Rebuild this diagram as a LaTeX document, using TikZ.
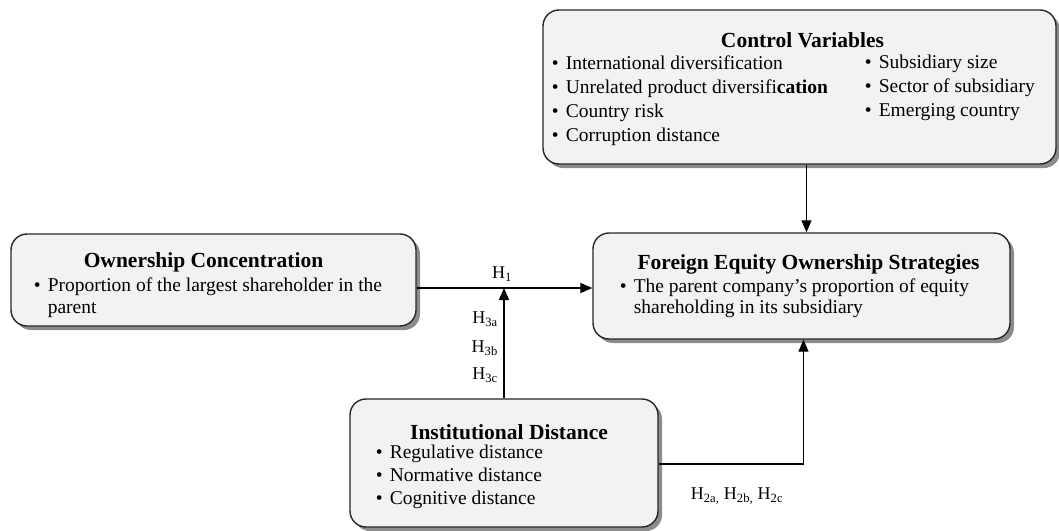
\documentclass[tikz,border=0pt]{standalone}
\usepackage{fontspec}
\setmainfont{Liberation Serif}
\usetikzlibrary{arrows.meta,shadows}
\newcommand{\bul}{\makebox[14pt][l]{\textbullet}}
\begin{document}
\begin{tikzpicture}[x=1pt,y=-1pt,
  box/.style={draw=black!85,line width=1.4pt,rounded corners=16pt,fill=black!5,
    drop shadow={shadow xshift=4pt,shadow yshift=-4pt,fill=black!45,opacity=1},
    inner sep=0pt},
  txt/.style={inner sep=0pt,anchor=base west,font=\fontsize{19.5}{22}\selectfont},
  ttl/.style={inner sep=0pt,anchor=base,font=\fontsize{21.5}{24}\selectfont\bfseries},
  lbl/.style={inner sep=0pt,anchor=base,font=\fontsize{18}{20}\selectfont},
  arr/.style={line width=1.3pt,-{Triangle[length=12pt,width=10pt]}}]
\useasboundingbox (0,0) rectangle (1059,530);
% boxes
\node[box,minimum width=513pt,minimum height=154pt] (ctrl) at (799.5,87) {};
\node[box,minimum width=417pt,minimum height=106pt] (fes) at (801.5,286) {};
\node[box,minimum width=405pt,minimum height=92pt] (own) at (213.5,280) {};
\node[box,minimum width=308pt,minimum height=128pt] (inst) at (504,463) {};
% control variables text
\node[ttl] (ctrlT) at (802.5,47) {Control Variables};
\node[txt] (c1) at (551.6,69) {\bul International diversification};
\node[txt] (c2) at (551.6,93) {\bul Unrelated product diversifi\textbf{cation}};
\node[txt] (c3) at (551.6,117) {\bul Country risk};
\node[txt] (c4) at (551.6,141) {\bul Corruption distance};
\node[txt] (c5) at (864.6,68) {\bul Subsidiary size};
\node[txt] (c6) at (864.6,92) {\bul Sector of subsidiary};
\node[txt] (c7) at (864.6,116) {\bul Emerging country};
% foreign equity
\node[ttl] (fesT) at (808.5,269) {Foreign Equity Ownership Strategies};
\node[txt] (f1) at (619.6,292.5) {\bul The parent company’s proportion of equity};
\node[txt] (f2) at (633.6,313.5) {shareholding in its subsidiary};
% ownership
\node[ttl] (ownT) at (203.5,267) {Ownership Concentration};
\node[txt] (o1) at (33.6,291.5) {\bul Proportion of the largest shareholder in the};
\node[txt] (o2) at (47.6,313.5) {parent};
% institutional
\node[ttl] (instT) at (509,439) {Institutional Distance};
\node[txt] (i1) at (375.6,458) {\bul Regulative distance};
\node[txt] (i2) at (375.6,481) {\bul Normative distance};
\node[txt] (i3) at (375.6,504) {\bul Cognitive distance};
% connectors
\coordinate (cs) at ([xshift=7pt]ctrl.south);
\coordinate (ce) at (cs |- fes.north);
\draw[arr] (cs) -- (ce);
\coordinate (h1s) at ([yshift=-8pt]own.east);
\coordinate (h1e) at (h1s -| fes.west);
\draw[arr] (h1s) -- (h1e);
\coordinate (h3e) at (inst.north |- h1s);
\draw[arr] (inst.north) -- (h3e);
\coordinate (h2e) at ([xshift=2pt]fes.south);
\draw[arr] ([yshift=-1pt]inst.east) -| (h2e);
% labels
\node[lbl] (lh1) at (502,278.5) {H\textsubscript{1}};
\node[lbl,anchor=base east] (lh3a) at (498,323.5) {H\textsubscript{3a}};
\node[lbl,anchor=base east] (lh3b) at (498,352.5) {H\textsubscript{3b}};
\node[lbl,anchor=base east] (lh3c) at (498,379.5) {H\textsubscript{3c}};
\node[lbl] (lh2) at (737,499.5) {H\textsubscript{2a,} H\textsubscript{2b,} H\textsubscript{2c}};
\end{tikzpicture}
\end{document}
